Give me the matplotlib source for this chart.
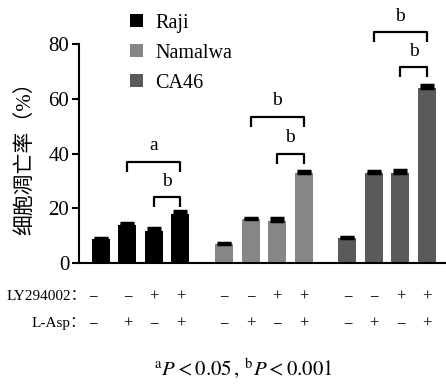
import numpy as np
import matplotlib
matplotlib.use("Agg")
import matplotlib.pyplot as plt

plt.rcParams['font.family'] = ['Liberation Serif', 'Noto Sans CJK SC']

# data
cells = ['Raji', 'Namalwa', 'CA46']
colors = ['#000000', '#868686', '#5a5a5a']
raji = [8.7, 14.0, 11.8, 18.0]
namalwa = [6.8, 16.0, 15.5, 33.0]
ca46 = [9.2, 33.0, 33.0, 64.0]
raji_err = [0.4, 0.7, 0.9, 0.9]
namalwa_err = [0.6, 0.6, 0.8, 0.5]
ca46_err = [0.4, 0.5, 0.8, 1.0]
ly = ['−', '−', '+', '+']
asp = ['−', '+', '−', '+']
# (group, bar_from, bar_to, height, label)
sig = [(0, 1, 3, 36.9, 'a'), (0, 2, 3, 24.0, 'b'),
       (1, 1, 3, 53.3, 'b'), (1, 2, 3, 39.8, 'b'),
       (2, 1, 3, 84.3, 'b'), (2, 2, 3, 71.5, 'b')]

offsets = [0, 4.65, 9.3]
width = 0.68

fig = plt.figure(figsize=(4.46, 3.84), dpi=100)
ax = fig.add_axes([0.177, 0.315, 0.823, 0.656])

groups = [raji, namalwa, ca46]
errs = [raji_err, namalwa_err, ca46_err]
for g, (vals, err) in enumerate(zip(groups, errs)):
    x = np.arange(4) + offsets[g]
    ax.bar(x, vals, width, color=colors[g], label=cells[g], zorder=2)
    ax.errorbar(x, vals, yerr=[np.zeros(4), err], fmt='none', ecolor='black',
                elinewidth=1.5, capsize=5, capthick=2.5, zorder=3)

for g, a, b, h, lab in sig:
    x1 = offsets[g] + a
    x2 = offsets[g] + b
    ax.plot([x1, x1, x2, x2], [h - 3.6, h, h, h - 3.6], color='black', lw=1.6,
            clip_on=False, solid_capstyle='butt')
    ax.text((x1 + x2) / 2, h + 2.8, lab, ha='center', va='bottom', fontsize=14)

ax.set_xlim(-0.83, 13.02)
ax.set_ylim(0, 92)
ax.set_yticks([0, 20, 40, 60, 80])
ax.spines['left'].set_bounds(0, 80)
ax.spines['top'].set_visible(False)
ax.spines['right'].set_visible(False)
ax.spines['left'].set_linewidth(1.5)
ax.spines['bottom'].set_linewidth(1.5)
ax.set_xticks([])
ax.tick_params(axis='y', labelsize=15, width=1.5, length=5, pad=2)
ax.set_ylabel('细胞凋亡率（%）', fontsize=15)
ax.yaxis.set_label_coords(-0.12, 0.437)

# treatment table under the axis
trans = matplotlib.transforms.blended_transform_factory(ax.transData, fig.transFigure)
for g in range(3):
    for i in range(4):
        xi = offsets[g] + i - (0.3 if g == 0 and i == 0 else 0)
        ax.text(xi, 1 - 297 / 384, ly[i], transform=trans, ha='center', va='center', fontsize=12)
        ax.text(xi, 1 - 324 / 384, asp[i], transform=trans, ha='center', va='center', fontsize=12)
fig.text(86 / 446, 1 - 297 / 384, 'LY294002：', ha='right', va='center', fontsize=11)
fig.text(86 / 446, 1 - 324 / 384, 'L-Asp：', ha='right', va='center', fontsize=11)

fig.text(243 / 446, 1 - 368 / 384, r'$^{\mathrm{a}}P < 0.05\,,\,^{\mathrm{b}}P < 0.001$',
         ha='center', va='center', fontsize=15,
         math_fontfamily='stix')

leg = ax.legend(loc='upper left', bbox_to_anchor=(0.139, 0.99), frameon=False,
                fontsize=14.5, handlelength=0.65, handleheight=0.65, handletextpad=0.6,
                labelspacing=0.55, borderpad=0, borderaxespad=0)

fig.savefig('out.png', dpi=100)
